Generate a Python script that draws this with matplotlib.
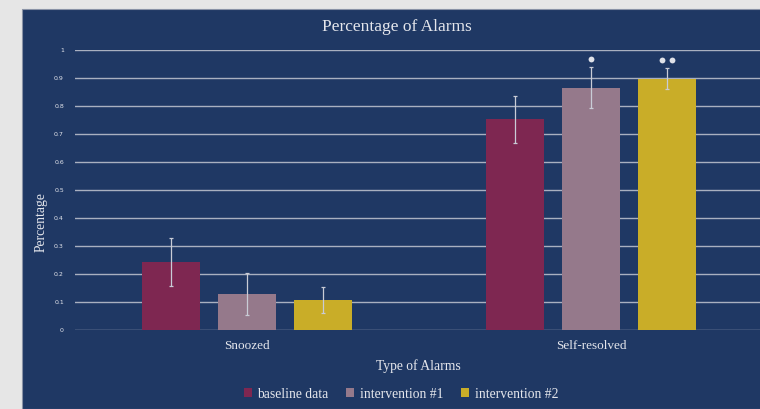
import numpy as np
import matplotlib
matplotlib.use("Agg")
import matplotlib.pyplot as plt
from matplotlib.patches import Rectangle
from matplotlib.transforms import offset_copy

# ===== DATA =====
categories = ["Snoozed", "Self-resolved"]
series = ["baseline data", "intervention #1", "intervention #2"]
baseline = [0.243, 0.752]
interv1 = [0.129, 0.866]
interv2 = [0.107, 0.898]
baseline_err = [0.085, 0.083]
interv1_err = [0.075, 0.074]
interv2_err = [0.046, 0.038]
signif = [0, 1, 2]  # number of significance dots over the Self-resolved bars
yticks = [0, 0.1, 0.2, 0.3, 0.4, 0.5, 0.6, 0.7, 0.8, 0.9, 1]

colors = ["#7e2751", "#95798b", "#c9ad28"]
navy = "#1f3864"
fg = "#e4e6ec"
serif = "Liberation Serif"

fig = plt.figure(figsize=(7.6, 4.09), dpi=100)
fig.patch.set_facecolor("#e6e6e6")
fig.patches.append(Rectangle((22 / 760, 0), 1, 1 - 9 / 409, transform=fig.transFigure,
                             facecolor=navy, edgecolor="#8a93a6", linewidth=0.8, zorder=-1))

ax = fig.add_axes([75 / 760, 1 - 330 / 409, 688 / 760, 280 / 409])
ax.set_facecolor("none")

x = np.arange(len(categories))
offset = 0.221
width = 0.17
values = [baseline, interv1, interv2]
errs = [baseline_err, interv1_err, interv2_err]

for i, (vals, err) in enumerate(zip(values, errs)):
    pos = x + (i - 1) * offset
    ax.bar(pos, vals, width, color=colors[i], label=series[i], zorder=3)
    ax.errorbar(pos, vals, yerr=err, fmt="none", ecolor="#c9ccd6", elinewidth=0.9,
                capsize=1.5, capthick=0.9, zorder=4)
    # significance dots, spaced in points around the bar centre
    n = signif[i]
    for k in range(n):
        dx = (k - (n - 1) / 2) * 7.2
        tr = offset_copy(ax.transData, fig=fig, x=dx, y=0, units="points")
        ax.plot(pos[1], vals[1] + err[1] + 0.027, "o", ms=4.2, color="#dfe1e8",
                mec="none", transform=tr, zorder=5, clip_on=False)

ax.set_xlim(-0.5, 1.5)
ax.set_ylim(0, 1)
ax.set_yticks(yticks)
ax.set_yticklabels([f"{t:g}" for t in yticks])
ax.grid(axis="y", color="#a9b0c0", linewidth=1.0, zorder=0)
ax.tick_params(axis="y", length=0, labelsize=4.5, labelcolor=fg, pad=8)
ax.tick_params(axis="x", length=0, labelsize=9.5, labelcolor=fg, pad=7)
ax.set_xticks(x)
ax.set_xticklabels(categories, fontfamily=serif)
for s in ax.spines.values():
    s.set_visible(False)

fig.text(397 / 760, 1 - 27 / 409, "Percentage of Alarms", ha="center", va="center",
         color=fg, fontsize=12.5, fontfamily=serif)
fig.text(418 / 760, 1 - 366 / 409, "Type of Alarms", ha="center", va="center",
         color=fg, fontsize=9.8, fontfamily=serif)
fig.text(41 / 760, 1 - 222 / 409, "Percentage", ha="center", va="center", rotation=90,
         color=fg, fontsize=9.8, fontfamily=serif)

leg = fig.legend(loc="center", bbox_to_anchor=(401 / 760, 1 - 394 / 409), ncol=3,
                 frameon=False, handlelength=0.6, handleheight=0.6,
                 handletextpad=0.4, columnspacing=1.3, prop={"family": serif, "size": 9.8})
for t in leg.get_texts():
    t.set_color(fg)

fig.savefig("out.png", dpi=100, facecolor=fig.get_facecolor())
